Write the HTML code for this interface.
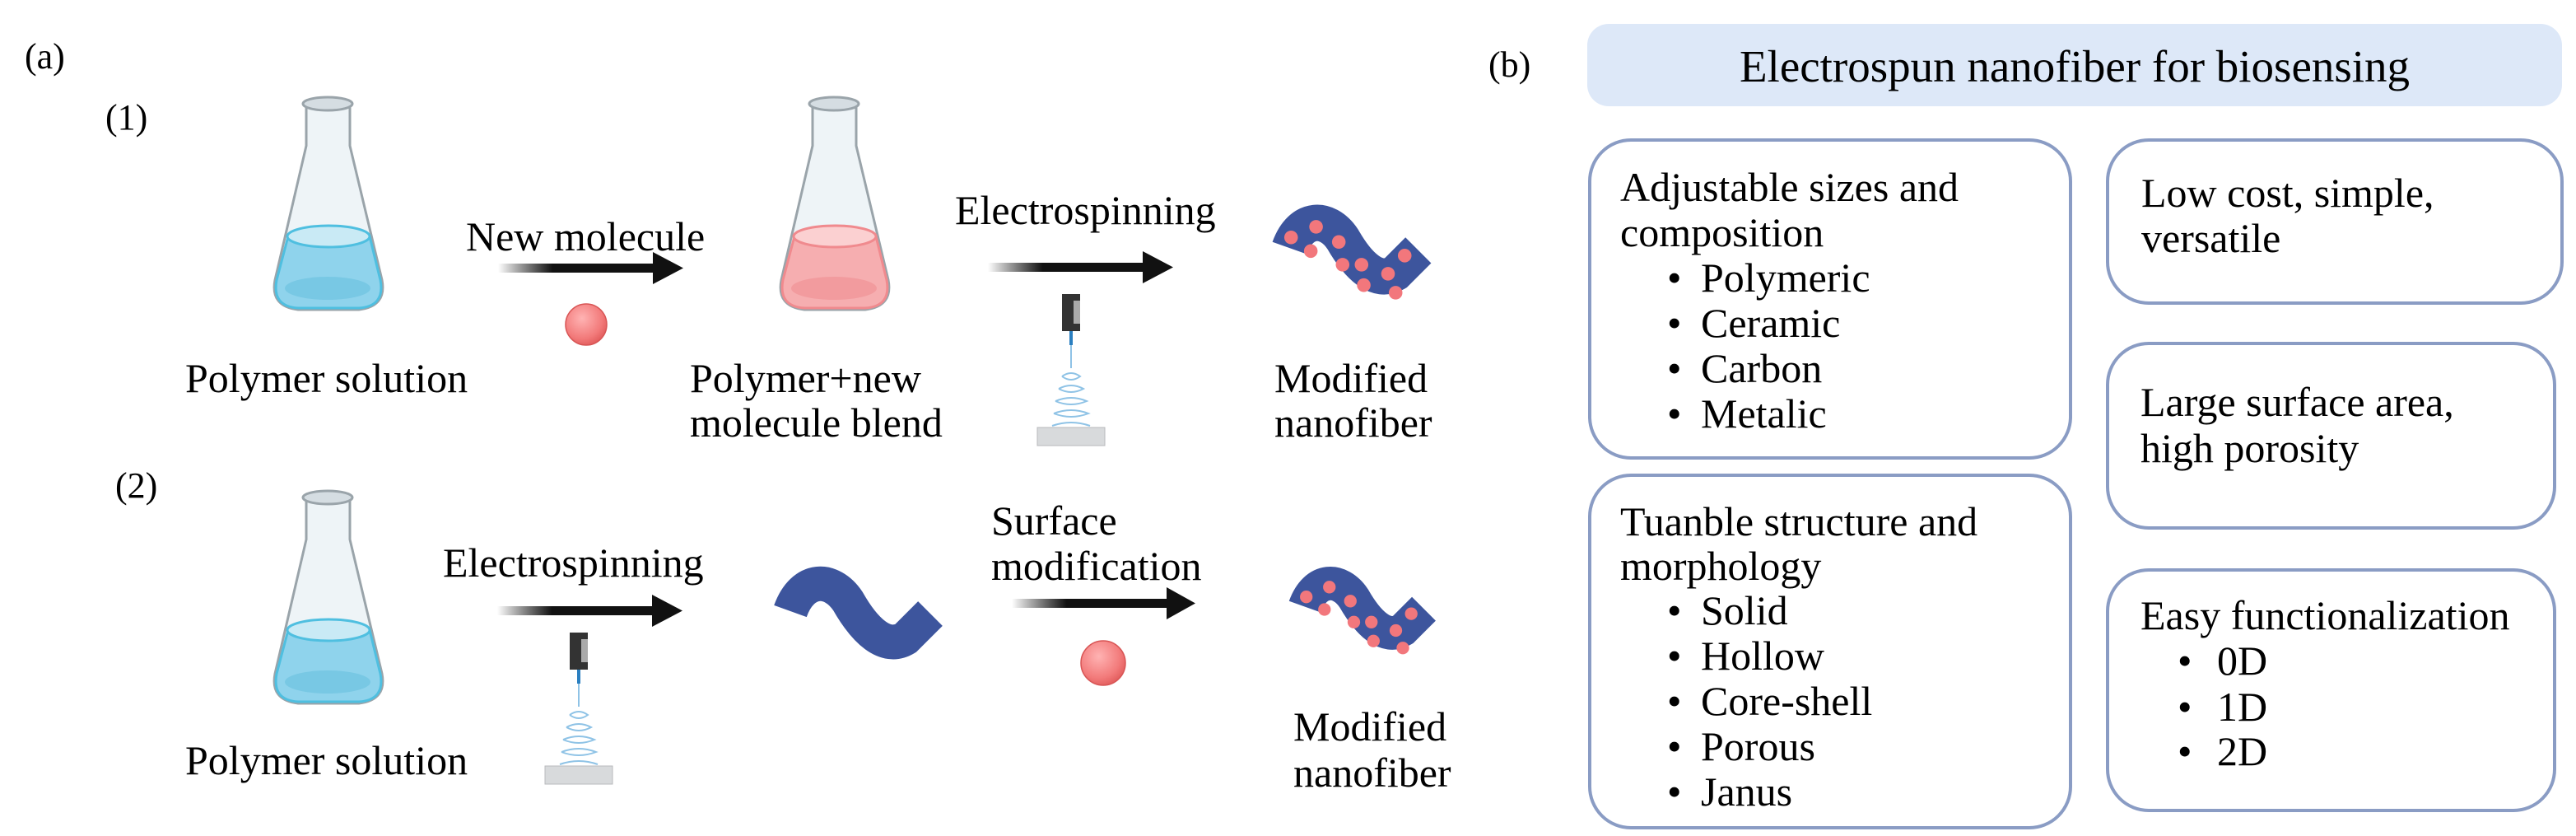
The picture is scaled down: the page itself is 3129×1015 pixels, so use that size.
<!DOCTYPE html>
<html><head><meta charset="utf-8"><style>
html,body{margin:0;padding:0;background:#fff}
svg{display:block;font-family:"Times New Roman",Times,"Liberation Serif","DejaVu Serif",serif}
svg text{font-family:"Times New Roman",Times,"Liberation Serif","DejaVu Serif",serif;fill:#000}
</style></head><body>
<svg width="3129" height="1015" viewBox="0 0 3129 1015" xmlns="http://www.w3.org/2000/svg" font-family="'Times New Roman', Times, 'Liberation Serif', 'DejaVu Serif', serif">
<defs>
<linearGradient id="ag" x1="0" x2="1" y1="0" y2="0"><stop offset="0" stop-color="#000" stop-opacity="0"/><stop offset="0.35" stop-color="#111"/><stop offset="1" stop-color="#111"/></linearGradient>
<radialGradient id="ball" cx="0.4" cy="0.35" r="0.7"><stop offset="0" stop-color="#ffb3b3"/><stop offset="0.7" stop-color="#f27a7a"/><stop offset="1" stop-color="#e05a5a"/></radialGradient>
<g id="flaskBase">
<path d="M372,128 L372,177 L334,340 Q328,372 362,376 L436,376 Q470,372 464,340 L425,177 L425,128 Z" fill="#eef4f7" stroke="#9aa4aa" stroke-width="3"/>
<ellipse cx="398" cy="126" rx="30" ry="8" fill="#d5dde2" stroke="#9aa4aa" stroke-width="3"/>
</g>
<g id="dev">
<rect x="0" y="0" width="22" height="45" fill="#333"/>
<rect x="14" y="8" width="8" height="28" fill="#aaa"/>
<line x1="11" y1="45" x2="11" y2="62" stroke="#2a7fc0" stroke-width="4"/>
<path d="M11,62 L11,90 M0,100 q11,-8 22,0 q-11,8 -22,0 M-4,115 q15,-8 30,0 q-15,8 -30,0 M-8,130 q19,-8 38,0 q-19,8 -38,0 M-10,145 q21,-8 42,0 q-21,8 -42,0 M-12,160 q23,-8 46,0" fill="none" stroke="#8fc3e6" stroke-width="2"/>
<rect x="-30" y="162" width="82" height="22" fill="#d8dadc" stroke="#b8babc"/>
</g>
</defs>

<g>
<text x="30" y="83" font-size="44">(a)</text>
<text x="128" y="157" font-size="44">(1)</text>
<text x="140" y="604" font-size="44">(2)</text>
</g>

<g>
<use href="#flaskBase"/>
<path d="M350,287 L336,340 Q330,372 362,374 L436,374 Q468,372 462,340 L449,287 Z" fill="#8fd3ec" stroke="#4fbfe0" stroke-width="3"/>
<ellipse cx="399" cy="287" rx="50" ry="13" fill="#c9eaf5" stroke="#4fbfe0" stroke-width="3"/>
<ellipse cx="398" cy="350" rx="52" ry="14" fill="#78c8e4"/>
</g>
<g transform="translate(615,0)">
<use href="#flaskBase"/>
<path d="M350,287 L336,340 Q330,372 362,374 L436,374 Q468,372 462,340 L449,287 Z" fill="#f6aeb0" stroke="#f08a8e" stroke-width="3"/>
<ellipse cx="399" cy="287" rx="50" ry="13" fill="#fbd0d1" stroke="#f08a8e" stroke-width="3"/>
<ellipse cx="398" cy="350" rx="52" ry="14" fill="#f29b9e"/>
</g>
<g transform="translate(0,478)">
<use href="#flaskBase"/>
<path d="M350,287 L336,340 Q330,372 362,374 L436,374 Q468,372 462,340 L449,287 Z" fill="#8fd3ec" stroke="#4fbfe0" stroke-width="3"/>
<ellipse cx="399" cy="287" rx="50" ry="13" fill="#c9eaf5" stroke="#4fbfe0" stroke-width="3"/>
<ellipse cx="398" cy="350" rx="52" ry="14" fill="#78c8e4"/>
</g>

<g>
<rect x="605" y="320" width="190" height="11" fill="url(#ag)"/><polygon points="793,306 830,325.5 793,345" fill="#111"/>
<rect x="1200" y="319" width="190" height="11" fill="url(#ag)"/><polygon points="1388,305 1425,324.5 1388,344" fill="#111"/>
<rect x="604" y="736" width="190" height="11" fill="url(#ag)"/><polygon points="792,722 829,741.5 792,761" fill="#111"/>
<rect x="1229" y="727" width="190" height="11" fill="url(#ag)"/><polygon points="1417,713 1452,732.5 1417,752" fill="#111"/>
</g>

<ellipse cx="712" cy="394" rx="25" ry="25" fill="url(#ball)" stroke="#d85555" stroke-width="1.5"/>
<ellipse cx="1340" cy="805" rx="27" ry="27" fill="url(#ball)" stroke="#d85555" stroke-width="1.5"/>

<use href="#dev" transform="translate(1290,357)"/>
<use href="#dev" transform="translate(692,768)"/>

<path d="M960,742 C975,700 1010,700 1030,730 C1050,765 1075,790 1100,775 L1130,745" fill="none" stroke="#3d559d" stroke-width="42"/>
<g transform="translate(1568,706) scale(0.85)">
<path d="M20,36 C35,-6 70,-6 90,24 C110,59 135,84 160,69 L190,39" fill="none" stroke="#3d559d" stroke-width="48"/>
<g fill="#f2777c"><circle cx="22" cy="22" r="9"/><circle cx="55" cy="8" r="9"/><circle cx="48" cy="40" r="9"/><circle cx="85" cy="28" r="9"/><circle cx="90" cy="58" r="9"/><circle cx="115" cy="58" r="9"/><circle cx="118" cy="85" r="9"/><circle cx="150" cy="70" r="9"/><circle cx="172" cy="46" r="9"/><circle cx="160" cy="95" r="9"/></g>
</g>
<g transform="translate(1548,268) scale(0.92)">
<path d="M20,36 C35,-6 70,-6 90,24 C110,59 135,84 160,69 L190,39" fill="none" stroke="#3d559d" stroke-width="48"/>
<g fill="#f2777c"><circle cx="22" cy="22" r="9"/><circle cx="55" cy="8" r="9"/><circle cx="48" cy="40" r="9"/><circle cx="85" cy="28" r="9"/><circle cx="90" cy="58" r="9"/><circle cx="115" cy="58" r="9"/><circle cx="118" cy="85" r="9"/><circle cx="150" cy="70" r="9"/><circle cx="172" cy="46" r="9"/><circle cx="160" cy="95" r="9"/></g>
</g>

<g font-size="50">
<text x="566" y="304">New molecule</text>
<text x="1160" y="272">Electrospinning</text>
<text x="225" y="476">Polymer solution</text>
<text x="838" y="476">Polymer+new</text>
<text x="838" y="530">molecule blend</text>
<text x="1548" y="476">Modified</text>
<text x="1548" y="530">nanofiber</text>
<text x="538" y="700">Electrospinning</text>
<text x="1204" y="649">Surface</text>
<text x="1204" y="704">modification</text>
<text x="225" y="940">Polymer solution</text>
<text x="1571" y="899">Modified</text>
<text x="1571" y="955">nanofiber</text>
</g>

<text x="1808" y="93" font-size="44">(b)</text>
<rect x="1928" y="29" width="1184" height="100" rx="26" fill="#dde8f8"/>
<text x="2520" y="99" font-size="55" text-anchor="middle">Electrospun nanofiber for biosensing</text>
<g fill="none" stroke="#8a9cc4" stroke-width="4">
<rect x="1931" y="170" width="584" height="386" rx="50"/>
<rect x="1931" y="577" width="584" height="428" rx="50"/>
<rect x="2560" y="170" width="552" height="198" rx="50"/>
<rect x="2560" y="417" width="543" height="224" rx="50"/>
<rect x="2560" y="692" width="543" height="292" rx="50"/>
</g>
<g font-size="50">
<text x="1968" y="244">Adjustable sizes and</text>
<text x="1968" y="299">composition</text>
<text x="2025" y="354">•</text><text x="2066" y="354">Polymeric</text>
<text x="2025" y="409">•</text><text x="2066" y="409">Ceramic</text>
<text x="2025" y="464">•</text><text x="2066" y="464">Carbon</text>
<text x="2025" y="519">•</text><text x="2066" y="519">Metalic</text>
<text x="1968" y="650">Tuanble structure and</text>
<text x="1968" y="704">morphology</text>
<text x="2025" y="758">•</text><text x="2066" y="758">Solid</text>
<text x="2025" y="813">•</text><text x="2066" y="813">Hollow</text>
<text x="2025" y="868">•</text><text x="2066" y="868">Core-shell</text>
<text x="2025" y="923">•</text><text x="2066" y="923">Porous</text>
<text x="2025" y="978">•</text><text x="2066" y="978">Janus</text>
<text x="2601" y="251">Low cost, simple,</text>
<text x="2601" y="306">versatile</text>
<text x="2600" y="505">Large surface area,</text>
<text x="2600" y="561">high porosity</text>
<text x="2600" y="764">Easy functionalization</text>
<text x="2645" y="819">•</text><text x="2693" y="819">0D</text>
<text x="2645" y="875">•</text><text x="2693" y="875">1D</text>
<text x="2645" y="929">•</text><text x="2693" y="929">2D</text>
</g>
</svg>
</body></html>
